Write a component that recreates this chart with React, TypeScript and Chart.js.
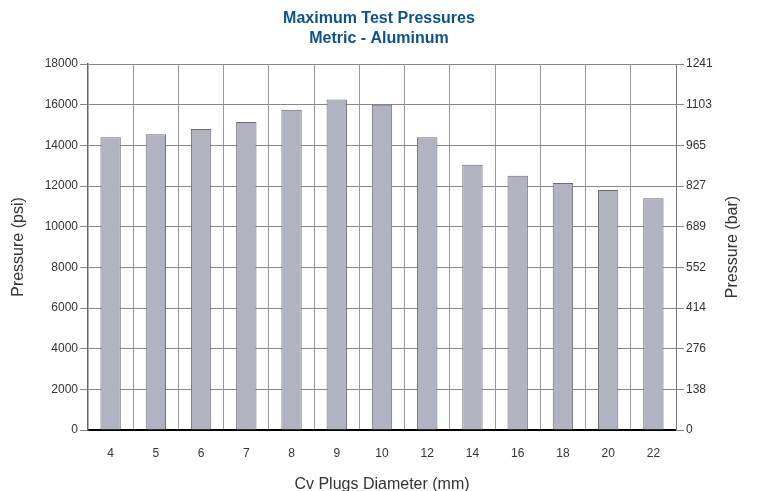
import React, { useEffect, useRef } from "react";
import { Chart, registerables } from "chart.js";

Chart.register(...registerables);

const titleLines = ["Maximum Test Pressures", "Metric - Aluminum"];
const categories = ["4", "5", "6", "7", "8", "9", "10", "12", "14", "16", "18", "20", "22"];
const pressurePsi = [14400, 14550, 14800, 15150, 15750, 16250, 16000, 14400, 13050, 12500, 12150, 11800, 11400];
const psiTicks = [0, 2000, 4000, 6000, 8000, 10000, 12000, 14000, 16000, 18000];
const psiTickLabels = ["0", "2000", "4000", "6000", "8000", "10000", "12000", "14000", "16000", "18000"];
const barTickLabels = ["0", "138", "276", "414", "552", "689", "827", "965", "1103", "1241"];
const xTitle = "Cv Plugs Diameter (mm)";
const yLeftTitle = "Pressure (psi)";
const yRightTitle = "Pressure (bar)";

const FONT = "'Liberation Sans', Arial, Helvetica, sans-serif";

const rightTitlePlugin = {
  id: "rightTitle",
  afterDraw(chart: any) {
    const { ctx, chartArea } = chart;
    ctx.save();
    ctx.translate(733, (chartArea.top + chartArea.bottom) / 2);
    ctx.rotate(-Math.PI / 2);
    ctx.font = `16px ${FONT}`;
    ctx.fillStyle = "#333";
    ctx.textAlign = "center";
    ctx.textBaseline = "middle";
    ctx.fillText(yRightTitle, 0, 0);
    ctx.restore();
  },
};

export default function App() {
  const ref = useRef<HTMLCanvasElement | null>(null);
  useEffect(() => {
    if (!ref.current) return;
    const chart = new Chart(ref.current, {
      type: "bar",
      data: {
        labels: categories,
        datasets: [
          {
            data: pressurePsi,
            backgroundColor: "#b1b4c0",
            borderColor: "#6a6b73",
            borderWidth: 1,
            barPercentage: 0.45,
            categoryPercentage: 1,
            yAxisID: "y",
          },
        ],
      },
      plugins: [rightTitlePlugin],
      options: {
        animation: false,
        responsive: false,
        maintainAspectRatio: false,
        layout: { padding: { left: 0, right: 0, top: 0, bottom: 0 } },
        plugins: {
          legend: { display: false },
          tooltip: { enabled: false },
          title: {
            display: true,
            text: titleLines,
            color: "#0d5289",
            font: { family: FONT, size: 16, weight: "bold", lineHeight: 1.25 },
            padding: { top: 9, bottom: 15 },
          },
        },
        scales: {
          x: {
            grid: {
              offset: true,
              drawTicks: false,
              color: "#9a9a9a",
              lineWidth: 1,
            },
            border: { color: "#000", width: 2 },
            ticks: { color: "#333", font: { family: FONT, size: 12 }, padding: 16 },
            title: {
              display: true,
              text: xTitle,
              color: "#333",
              font: { family: FONT, size: 16 },
              padding: { top: 0, bottom: -3 },
            },
            afterFit: (s: any) => {
              s.height = 61;
            },
          },
          y: {
            position: "left",
            min: 0,
            max: 18000,
            afterBuildTicks: (s: any) => {
              s.ticks = psiTicks.map((v) => ({ value: v }));
            },
            grid: { color: "#888", lineWidth: 1, tickLength: 8 },
            border: { color: "#666", width: 1.5 },
            ticks: {
              color: "#333",
              font: { family: FONT, size: 12 },
              padding: 2,
              callback: (_v: any, i: number) => psiTickLabels[i],
            },
            title: {
              display: true,
              text: yLeftTitle,
              color: "#333",
              font: { family: FONT, size: 16 },
              padding: { top: 9, bottom: 0 },
            },
            afterFit: (s: any) => {
              s.width = 88;
            },
          },
          y2: {
            position: "right",
            min: 0,
            max: 18000,
            afterBuildTicks: (s: any) => {
              s.ticks = psiTicks.map((v) => ({ value: v }));
            },
            grid: { drawOnChartArea: false, color: "#888", tickLength: 8 },
            border: { color: "#777", width: 1 },
            ticks: {
              color: "#333",
              font: { family: FONT, size: 12 },
              padding: 2,
              callback: (_v: any, i: number) => barTickLabels[i],
            },
            title: { display: false },
            afterFit: (s: any) => {
              s.width = 82;
            },
          },
        },
      },
    });
    return () => chart.destroy();
  }, []);
  return (
    <div style={{ position: "fixed", left: 0, top: 0, width: 758, height: 491, background: "#fff" }}>
      <canvas ref={ref} width={758} height={491} style={{ width: 758, height: 491 }} />
    </div>
  );
}
